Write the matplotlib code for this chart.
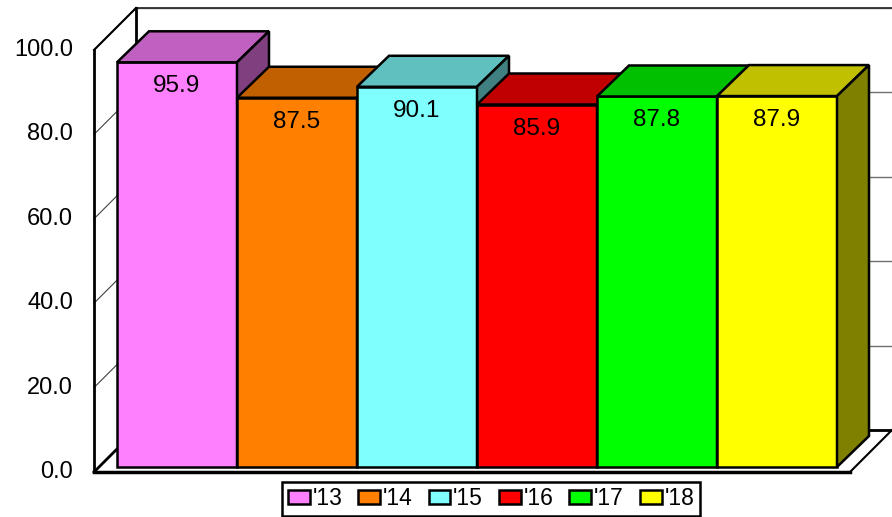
import matplotlib
matplotlib.use('Agg')
import matplotlib.pyplot as plt
from matplotlib.patches import Polygon, Patch
from matplotlib.transforms import offset_copy, IdentityTransform

plt.rcParams['font.family'] = ['Liberation Sans', 'DejaVu Sans']

# data
years = ["'13", "'14", "'15", "'16", "'17", "'18"]
values = [95.9, 87.5, 90.1, 85.9, 87.8, 87.9]
front_colors = ['#FF80FF', '#FF8000', '#80FFFF', '#FF0000', '#00FF00', '#FFFF00']
top_colors = ['#C060C0', '#C06000', '#60C0C0', '#C00000', '#00C000', '#C0C000']
side_colors = ['#804080', '#804000', '#408080', '#800000', '#008000', '#808000']
yticks = [0, 20, 40, 60, 80, 100]

W, H = 892, 517
fig = plt.figure(figsize=(W / 100, H / 100), dpi=100)
ax = fig.add_axes([94 / W, (H - 472) / H, (850 - 94) / W, (472 - 50) / H])
xmin, xmax = -0.65, 5.65
ax.set_xlim(xmin, xmax)
ax.set_ylim(0, 100)
ax.axis('off')

wall = 42    # depth of the box (px)
bar_z = 5    # bars sit slightly behind the front plane
bar_d = 32   # depth of each bar
ident = IdentityTransform()


def px(x, y, dz=0):
    X, Y = ax.transData.transform((x, y))
    return X + dz, Y + dz


def seg(p, q, **kw):
    ax.plot([p[0], q[0]], [p[1], q[1]], transform=ident, clip_on=False, **kw)


###############################################################################
# walls and floor
###############################################################################
for v in yticks:
    seg(px(xmin, v), px(xmin, v, wall), color='#404040', lw=0.8, zorder=1)
    b = px(xmin, v, wall)
    seg(b, (W, b[1]), color='#707070', lw=1.0, zorder=1)

seg(px(xmin, 100, wall), (W, px(xmin, 100, wall)[1]), color='#303030', lw=1.3, zorder=1)
seg(px(xmin, 0, wall), px(xmin, 100, wall), color='black', lw=2, zorder=2)
seg(px(xmin, 100), px(xmin, 100, wall), color='black', lw=1.5, zorder=2)
seg(px(xmin, 0), px(xmin, 100), color='black', lw=2, zorder=2)
# floor
seg(px(xmin, 0), px(xmin, 0, wall), color='black', lw=2, zorder=2)
seg(px(xmin, 0, wall), (W, px(xmin, 0, wall)[1]), color='black', lw=2, zorder=2)
seg(px(xmax, 0), px(xmax, 0, wall), color='black', lw=1.5, zorder=2)
seg(px(xmin, 0), px(xmax, 0), color='black', lw=2.5, zorder=2)

# tick labels
for v in yticks:
    ax.annotate(f'{v:.1f}', (xmin, v), xytext=(-21, 0), textcoords='offset pixels',
                ha='right', va='center', fontsize=17, annotation_clip=False)

###############################################################################
# bars
###############################################################################
bar_tr = offset_copy(ax.transData, fig=fig, x=bar_z, y=bar_z, units='dots')
for i, v in enumerate(values):
    z = 10 + 3 * i
    ax.bar(i, v, width=1, color=front_colors[i], edgecolor='black', lw=1.8,
           transform=bar_tr, clip_on=False, zorder=z)
    fl = px(i - 0.5, v, bar_z)
    fr = px(i + 0.5, v, bar_z)
    br = (fr[0] + bar_d, fr[1] + bar_d - 1)
    bl = (fl[0] + bar_d, fl[1] + bar_d - 1)
    ax.add_patch(Polygon([fl, fr, br, bl], closed=True, facecolor=top_colors[i],
                         edgecolor='black', lw=1.8, transform=ident, clip_on=False,
                         zorder=z + 1))
    fb = px(i + 0.5, 0, bar_z)
    bb = (fb[0] + bar_d, fb[1] + bar_d - 1)
    ax.add_patch(Polygon([fb, fr, br, bb], closed=True, facecolor=side_colors[i],
                         edgecolor='black', lw=1.8, transform=ident, clip_on=False,
                         zorder=z + 2))
    ax.annotate(f'{v:.1f}', (i, v), xytext=(bar_z, -24 + bar_z), textcoords='offset pixels',
                ha='center', va='center', fontsize=17.5, zorder=40, annotation_clip=False)

###############################################################################
# legend
###############################################################################
handles = [Patch(facecolor=c, edgecolor='black', lw=1.8) for c in front_colors]
leg = fig.legend(handles, years, loc='lower center', bbox_to_anchor=(491 / W, 1 / H),
                 ncol=6, fontsize=16.5, frameon=True, fancybox=False, edgecolor='black',
                 framealpha=1, handlelength=0.95, handleheight=0.6, handletextpad=0.12,
                 columnspacing=0.7, borderpad=0.25, borderaxespad=0)
leg.get_frame().set_linewidth(1.8)

plt.savefig('out.png', dpi=100)
